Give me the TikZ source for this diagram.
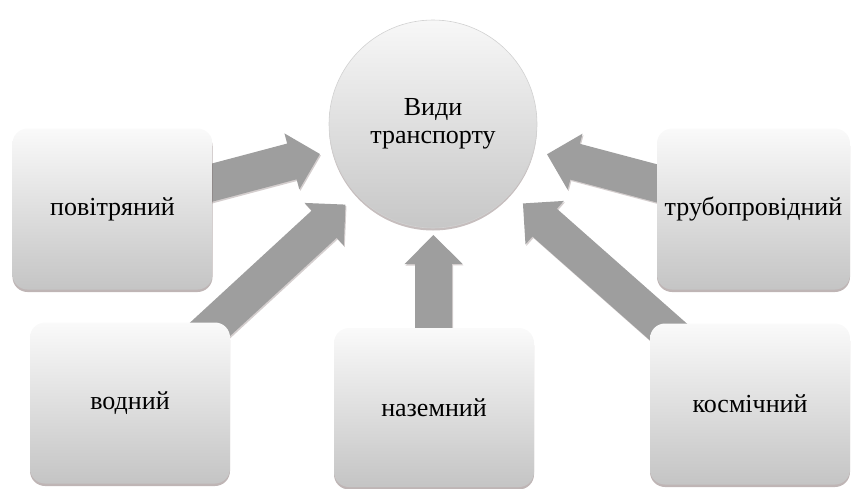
\documentclass[tikz,border=0pt]{standalone}
\usepackage{fontspec}
\setmainfont{Liberation Serif}
\usepackage{xcolor}
\usetikzlibrary{calc,shadows,backgrounds}
\definecolor{arrowgray}{RGB}{158,158,158}
\definecolor{shadowtone}{RGB}{112,92,92}
\newcommand{\kindsize}{\fontsize{26}{28.5}\selectfont}
\newcommand{\flowarrow}[2]{%
  \coordinate (hb) at ($(#2)!29pt!(#1)$);
  \fill[blk] ($(#1)!18.5pt!90:(#2)$) -- ($(hb)!18.5pt!90:(#2)$) -- ($(hb)!29pt!90:(#2)$) -- (#2)
    -- ($(hb)!29pt!-90:(#2)$) -- ($(hb)!18.5pt!-90:(#2)$) -- ($(#1)!18.5pt!-90:(#2)$) -- cycle;}
\tikzset{
  kind/.style ={rectangle, rounded corners=15pt, inner sep=0pt,
                minimum width=200pt, minimum height=161pt,
                top color=black!2, bottom color=black!23, font=\kindsize,
                drop shadow={shadow xshift=0pt, shadow yshift=-2.5pt,
                             opacity=.45, fill=shadowtone}},
  hub/.style  ={circle, inner sep=0pt, minimum size=208pt, align=center,
                draw=black!18, line width=0.6pt,
                top color=black!3, bottom color=black!22, font=\kindsize,
                drop shadow={shadow xshift=0pt, shadow yshift=-2.5pt,
                             opacity=.4, fill=shadowtone}},
  blk/.style  ={fill=arrowgray,
                drop shadow={shadow xshift=1pt, shadow yshift=-1.5pt,
                             opacity=.3, fill=shadowtone}},
}
\begin{document}
\begin{tikzpicture}[x=1pt,y=-1pt]
\useasboundingbox (0,0) rectangle (851,488);
\node[hub] (vid) at (433,124) {Види\\транспорту};
\node[kind] (pov) at (112.5,209) {повітряний};
\node[kind] (vod) at (130,403) {водний};
\node[kind, minimum height=159pt] (naz) at (434,407.5) {наземний};
\node[kind] (kos) at (750,404) {космічний};
\node[kind, minimum width=193pt] (tru) at (753.5,209) {трубопровідний};
\coordinate (tpov) at ($(vid)!117pt!(pov)$);
\coordinate (tvod) at ($(vid)!119pt!(vod)$);
\coordinate (tnaz) at ($(vid)!111pt!(naz)$);
\coordinate (tkos) at ($(vid)!120pt!(kos)$);
\coordinate (ttru) at ($(vid)!118pt!(tru)$);
\begin{scope}[on background layer]
\flowarrow{pov}{tpov}
\flowarrow{vod}{tvod}
\flowarrow{naz}{tnaz}
\flowarrow{kos}{tkos}
\flowarrow{tru}{ttru}
\end{scope}
\end{tikzpicture}
\end{document}
